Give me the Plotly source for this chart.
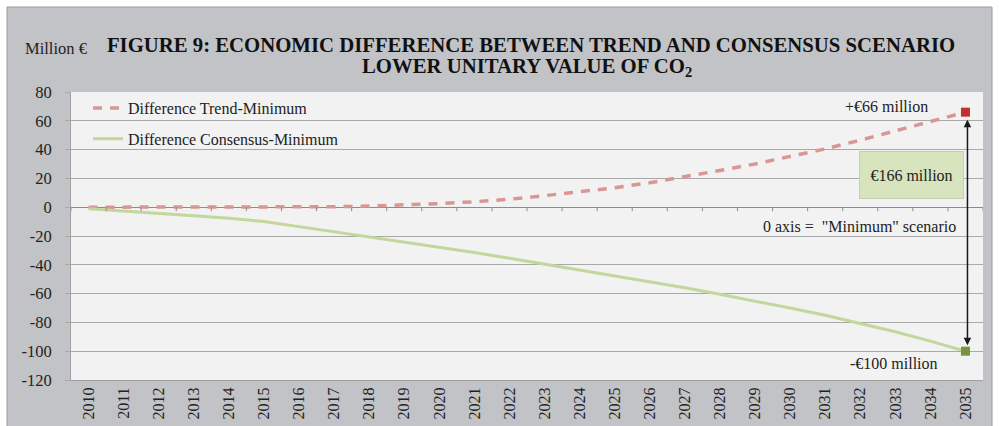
import plotly.graph_objects as go

years = [str(y) for y in range(2010, 2036)]
trend_minus_minimum = [0, 0, 0, 0, 0, 0, 0, 0.3, 0.8, 1.5, 2.5, 3.8, 5.5, 8, 10.5, 13.5,
                       17, 21, 25.5, 30, 35, 40.5, 46.5, 53, 59.5, 66]
consensus_minus_minimum = [-1, -2.5, -4.3, -6, -7.7, -10, -13.5, -17, -21, -24, -27.5, -31.5,
                           -35.5, -39.5, -43.5, -47.5, -52, -56, -60.5, -65, -70, -75, -80.5,
                           -86.5, -93, -100]
y_ticks = [80, 60, 40, 20, 0, -20, -40, -60, -80, -100, -120]
y_tick_text = [str(v) for v in y_ticks]  # plain hyphen minus as in the reference

FONT = "Liberation Serif"
PAPER_GRAY = "#c1c3c6"
PLOT_BG = "#f2f2f2"
GRID = "#a9a9a9"
TREND_COLOR = "#d99694"
CONS_COLOR = "#c3d69b"

Y_MIN, Y_MAX = -120, 80

fig = go.Figure()

fig.add_trace(go.Scatter(
    x=years, y=trend_minus_minimum, mode="lines", name="Difference Trend-Minimum",
    line=dict(color=TREND_COLOR, width=3.5, dash="9px,8px"), legendgroup="a"))
fig.add_trace(go.Scatter(
    x=years, y=consensus_minus_minimum, mode="lines", name="Difference Consensus-Minimum",
    line=dict(color=CONS_COLOR, width=3), legendgroup="b"))
fig.add_trace(go.Scatter(
    x=[years[-1]], y=[trend_minus_minimum[-1]], mode="markers", showlegend=False,
    marker=dict(symbol="square", size=9, color="#c0302e")))
fig.add_trace(go.Scatter(
    x=[years[-1]], y=[consensus_minus_minimum[-1]], mode="markers", showlegend=False,
    marker=dict(symbol="square", size=9, color="#77933c")))

# plot-area geometry (pixels)
L, R, T, B = 71, 16, 92, 46
W, H = 999, 426
pw, ph = W - L - R, H - T - B
units_per_px = (Y_MAX - Y_MIN) / ph


def px_x(p):
    return (p - L) / pw


def px_y(p):
    return (H - B - p) / ph


last = len(years) - 1  # category index of the final year (annotations use indices)

shapes = [
    dict(type="rect", xref="paper", yref="paper", x0=px_x(7), x1=px_x(992),
         y0=px_y(7), y1=px_y(430), fillcolor=PAPER_GRAY,
         line=dict(color="#9a9a9a", width=1), layer="below"),
    dict(type="rect", xref="paper", yref="paper", x0=0, x1=1, y0=0, y1=1,
         fillcolor=PLOT_BG, line=dict(width=0), layer="below"),
]
# small tick marks hanging below the zero line, at the category boundaries
for k in range(len(years) + 1):
    shapes.append(dict(type="line", xref="x", yref="y", x0=k - 0.5, x1=k - 0.5,
                       y0=0, y1=-4 * units_per_px,
                       line=dict(color="#8c8c8c", width=1), layer="above"))

annotations = [
    dict(text="LOWER UNITARY VALUE OF CO<sub>2</sub>", xref="paper", yref="paper",
         x=px_x(527), y=px_y(67), xanchor="center", yanchor="middle", showarrow=False,
         font=dict(family=FONT, size=20.75, color="#111", weight="bold")),
    dict(text="Million €", xref="paper", yref="paper", x=px_x(23), y=px_y(48),
         xanchor="left", yanchor="middle", showarrow=False,
         font=dict(family=FONT, size=16.5, color="#222")),
    dict(text="+€66 million", x=last, y=trend_minus_minimum[-1], xanchor="right",
         yanchor="middle", xshift=-35, yshift=6, showarrow=False,
         font=dict(family=FONT, size=16, color="#222")),
    dict(text="-€100 million", x=last, y=consensus_minus_minimum[-1], xanchor="right",
         yanchor="middle", xshift=-25, yshift=-12, showarrow=False,
         font=dict(family=FONT, size=16, color="#222")),
    dict(text='0 axis =  "Minimum" scenario', x=last, y=0, xanchor="right",
         yanchor="middle", xshift=-7, yshift=-19, showarrow=False,
         font=dict(family=FONT, size=16, color="#222")),
    dict(text="€166 million", x=last, y=0, xanchor="center", yanchor="middle",
         xshift=-54, yshift=32, showarrow=False, bgcolor="#d7e4bd",
         bordercolor="#c5cdb5", borderwidth=1, borderpad=4, width=95, height=38,
         font=dict(family=FONT, size=16, color="#222")),
    dict(text="", x=last, y=consensus_minus_minimum[-1], ax=last,
         ay=trend_minus_minimum[-1], axref="x", ayref="y", xshift=2,
         showarrow=True, arrowhead=2, startarrowhead=2, arrowside="end+start",
         arrowsize=1, arrowwidth=1.5, arrowcolor="#1a1a1a", standoff=6, startstandoff=6),
]

x_range = [-0.5, len(years) - 0.5]

fig.update_layout(
    width=W, height=H,
    margin=dict(l=L, r=R, t=T, b=B),
    paper_bgcolor="white",
    plot_bgcolor="rgba(0,0,0,0)",
    title=dict(
        text="FIGURE 9: ECONOMIC DIFFERENCE BETWEEN TREND AND CONSENSUS SCENARIO",
        x=531 / W, xanchor="center", xref="container",
        y=1 - 45 / H, yanchor="middle", yref="container",
        font=dict(family=FONT, size=20.75, color="#111", weight="bold")),
    showlegend=True,
    legend=dict(x=px_x(88), y=px_y(91), xanchor="left", yanchor="top",
                bgcolor="rgba(0,0,0,0)", font=dict(family=FONT, size=16, color="#222"),
                traceorder="grouped", tracegroupgap=7),
    xaxis=dict(type="category", categoryorder="array", categoryarray=years,
               range=x_range, tickangle=-90, showgrid=False, ticks="", showline=True,
               linecolor="#a0a0a0", linewidth=1, zeroline=False, automargin=False,
               tickfont=dict(family=FONT, size=16, color="#222")),
    yaxis=dict(range=[Y_MIN, Y_MAX], tickvals=y_ticks, ticktext=y_tick_text,
               showgrid=True, gridcolor=GRID,
               gridwidth=1, zeroline=True, zerolinecolor="#8c8c8c", zerolinewidth=1,
               ticks="outside", ticklen=5, ticklabelstandoff=10,
               tickcolor=GRID, showline=True, linecolor="#a0a0a0", automargin=False,
               tickfont=dict(family=FONT, size=16.5, color="#222")),
    shapes=shapes,
    annotations=annotations,
)

fig.write_html("out.html", config={"displayModeBar": False},
               post_script="document.body.style.margin='0';")
